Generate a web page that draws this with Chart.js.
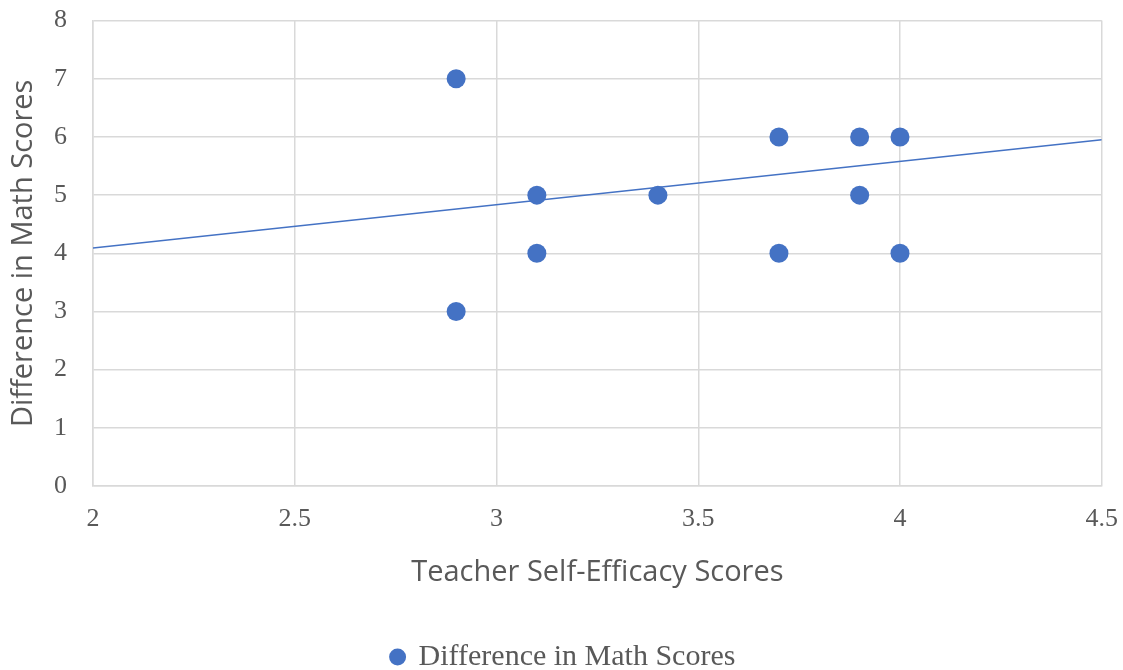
<!DOCTYPE html>
<html>
<head>
<meta charset="utf-8">
<script src="https://cdn.jsdelivr.net/npm/chart.js@4.4.1/dist/chart.umd.min.js"></script>
<style>
  html, body { margin: 0; padding: 0; background: #fff; overflow: hidden; }
  #wrap { width: 1123px; height: 670px; overflow: hidden; }
  #scatterChart { display: block; margin-top: -21px; }
</style>
</head>
<body>
<div id="wrap"><canvas id="scatterChart" width="1136" height="691"></canvas></div>
<script>
// Teacher self-efficacy vs difference in math scores
const efficacyScores = [2.9, 2.9, 3.1, 3.1, 3.4, 3.7, 3.7, 3.9, 3.9, 4, 4];
const mathDiffScores = [7, 3, 5, 4, 5, 6, 4, 6, 5, 6, 4];

// trend line end points
const trendX = [2, 4.5];
const trendY = [4.09, 5.95];

const xTicks = [2, 2.5, 3, 3.5, 4, 4.5];
const yTicks = [0, 1, 2, 3, 4, 5, 6, 7, 8];

const blue = '#4472C4';
const gridGray = '#d9d9d9';
const textGray = '#595959';

const points = efficacyScores.map((x, i) => ({ x: x, y: mathDiffScores[i] }));
const trend = trendX.map((x, i) => ({ x: x, y: trendY[i] }));

new Chart(document.getElementById('scatterChart'), {
    type: 'scatter',
    data: {
        datasets: [
            {
                label: 'Difference in Math Scores',
                data: points,
                backgroundColor: blue,
                borderWidth: 0,
                pointRadius: 9.5,
                pointHoverRadius: 9.5
            },
            {
                label: 'trend',
                type: 'line',
                data: trend,
                borderColor: blue,
                borderWidth: 1.5,
                pointRadius: 0,
                fill: false
            }
        ]
    },
    options: {
        responsive: false,
        animation: false,
        layout: {
            autoPadding: false,
            padding: { top: 0, right: 9, bottom: -12, left: 0 }
        },
        plugins: {
            legend: {
                position: 'bottom',
                labels: {
                    filter: item => item.text !== 'trend',
                    usePointStyle: true,
                    pointStyle: 'circle',
                    boxWidth: 12,
                    boxHeight: 12,
                    padding: 4,
                    color: textGray,
                    font: { family: 'Liberation Serif', size: 30 }
                }
            },
            tooltip: { enabled: false }
        },
        scales: {
            x: {
                type: 'linear',
                min: 2,
                max: 4.5,
                afterBuildTicks: axis => { axis.ticks = xTicks.map(v => ({ value: v })); },
                ticks: {
                    color: textGray,
                    padding: 18,
                    maxRotation: 0,
                    callback: v => String(v),
                    font: { family: 'Liberation Serif', size: 26 }
                },
                grid: { color: gridGray, lineWidth: 1.5, drawTicks: false },
                border: { color: gridGray, width: 1.5 },
                title: {
                    display: true,
                    text: 'Teacher Self-Efficacy Scores',
                    color: textGray,
                    padding: { top: 0, bottom: 48 },
                    font: { family: 'Open Sans', size: 29 }
                },
                afterFit: axis => { axis.height = 152; }
            },
            y: {
                type: 'linear',
                min: 0,
                max: 8,
                afterBuildTicks: axis => { axis.ticks = yTicks.map(v => ({ value: v })); },
                ticks: {
                    color: textGray,
                    padding: 26,
                    font: { family: 'Liberation Serif', size: 26 }
                },
                grid: { color: gridGray, lineWidth: 1.5, drawTicks: false },
                border: { color: gridGray, width: 1.5 },
                title: {
                    display: true,
                    text: 'Difference in Math Scores',
                    color: textGray,
                    padding: { top: 6, bottom: 0 },
                    font: { family: 'Open Sans', size: 29 }
                },
                afterFit: axis => { axis.width = 93; }
            }
        }
    }
});
</script>
</body>
</html>
